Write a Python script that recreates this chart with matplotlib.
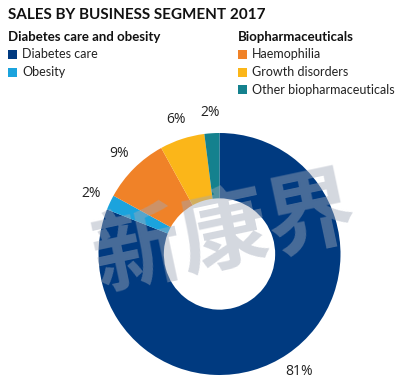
import matplotlib
matplotlib.use("Agg")
import matplotlib.pyplot as plt
from matplotlib.patches import Rectangle

# data
segments = ["Diabetes care", "Obesity", "Haemophilia", "Growth disorders", "Other biopharmaceuticals"]
shares = [81, 2, 9, 6, 2]
colors = ["#003A80", "#1BA3DD", "#F08228", "#FBB619", "#14818E"]
groups = ["Diabetes care and obesity", "Biopharmaceuticals"]
group_of = [0, 0, 1, 1, 1]
title = "SALES BY BUSINESS SEGMENT 2017"

W, H = 418, 391
plt.rcParams["font.family"] = ["Open Sans", "DejaVu Sans"]
LEG_FONT = ["Lato", "DejaVu Sans"]

fig = plt.figure(figsize=(W / 100, H / 100), dpi=100)

def fx(px):
    return px / W

def fy(py):
    return 1 - py / H

# donut: centre (219.5, 254), outer radius 121 px
cx, cy, r = 219.5, 254, 121
ax = fig.add_axes([fx(cx - r), fy(cy + r), 2 * r / W, 2 * r / H])
ax.pie(shares, colors=colors, startangle=90, counterclock=False,
       radius=1, wedgeprops=dict(width=0.54, linewidth=0),
       autopct=lambda p: f"{p:.0f}%", pctdistance=1.17,
       textprops=dict(fontsize=10, color="#222222"))
ax.set_xlim(-1, 1)
ax.set_ylim(-1, 1)
ax.set_aspect("equal")
ax.axis("off")

# title
fig.text(fx(8), fy(15), title, fontsize=11, fontweight="bold", family=LEG_FONT,
         color="#111111", va="center", ha="left")

# legend in two columns
col_x = [8, 238]
head_y = 37
row_h = 17.5
for g, name in enumerate(groups):
    fig.text(fx(col_x[g]), fy(head_y), name, fontsize=9.5, fontweight="bold",
             family=LEG_FONT, color="#111111", va="center", ha="left")
    k = 0
    for i, seg in enumerate(segments):
        if group_of[i] != g:
            continue
        y = head_y + row_h * (k + 1)
        fig.patches.append(Rectangle((fx(col_x[g]), fy(y + 4.5)), 9 / W, 9 / H,
                                     transform=fig.transFigure, color=colors[i],
                                     linewidth=0))
        fig.text(fx(col_x[g] + 14), fy(y), seg, fontsize=9, family=LEG_FONT,
                 color="#222222", va="center", ha="left")
        k += 1

# watermark
fig.text(fx(225), fy(235), "新康界", fontsize=64, fontweight="bold",
         family=["Noto Sans CJK SC"], color="#a0a8b8", alpha=0.45,
         rotation=12, ha="center", va="center")

fig.savefig("out.png", dpi=100)
